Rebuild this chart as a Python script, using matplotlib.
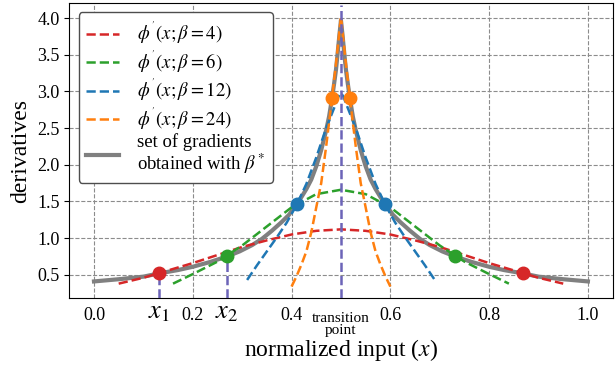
import matplotlib
matplotlib.use("Agg")
import matplotlib.pyplot as plt

plt.rcParams['font.family'] = ['serif']
plt.rcParams['font.serif'] = ['Liberation Serif']
plt.rcParams['mathtext.fontset'] = 'stix'

# ---- data ----
x_red = [0.05, 0.10, 0.15, 0.20, 0.25, 0.30, 0.35, 0.40, 0.45, 0.50,
         0.55, 0.60, 0.65, 0.70, 0.75, 0.80, 0.85, 0.90, 0.95]
y_red = [0.38, 0.46, 0.56, 0.66, 0.77, 0.88, 0.97, 1.05, 1.10, 1.12,
         1.10, 1.05, 0.97, 0.88, 0.77, 0.66, 0.56, 0.46, 0.38]

x_green = [0.16, 0.20, 0.25, 0.30, 0.35, 0.40, 0.45, 0.50,
           0.55, 0.60, 0.65, 0.70, 0.75, 0.80, 0.84]
y_green = [0.38, 0.51, 0.68, 0.90, 1.16, 1.42, 1.60, 1.66,
           1.60, 1.42, 1.16, 0.90, 0.68, 0.51, 0.38]

x_blue = [0.31, 0.33, 0.35, 0.37, 0.39, 0.41, 0.43, 0.45, 0.47, 0.49, 0.495, 0.50,
          0.505, 0.51, 0.53, 0.55, 0.57, 0.59, 0.61, 0.63, 0.65, 0.67, 0.69]
y_blue = [0.43, 0.63, 0.82, 1.01, 1.21, 1.45, 1.74, 2.10, 2.50, 2.84, 2.93, 2.98,
          2.93, 2.84, 2.50, 2.10, 1.74, 1.45, 1.21, 1.01, 0.82, 0.63, 0.43]

x_orange = [0.40, 0.41, 0.42, 0.43, 0.44, 0.45, 0.46, 0.47, 0.48, 0.49, 0.50,
            0.51, 0.52, 0.53, 0.54, 0.55, 0.56, 0.57, 0.58, 0.59, 0.60]
y_orange = [0.34, 0.48, 0.64, 0.82, 1.08, 1.42, 1.75, 2.25, 2.80, 3.38, 4.02,
            3.38, 2.80, 2.25, 1.75, 1.42, 1.08, 0.82, 0.64, 0.48, 0.34]

x_gray = [0.0, 0.05, 0.10, 0.132, 0.17, 0.20, 0.235, 0.269, 0.295, 0.32, 0.34,
          0.36, 0.38, 0.395, 0.41, 0.42, 0.43, 0.44, 0.45, 0.46, 0.47, 0.476,
          0.482, 0.486, 0.49, 0.493, 0.497, 0.50,
          0.503, 0.507, 0.51, 0.514, 0.518, 0.524, 0.53, 0.54, 0.55, 0.56, 0.57,
          0.58, 0.59, 0.605, 0.62, 0.64, 0.66, 0.68, 0.705, 0.731, 0.765, 0.80,
          0.83, 0.868, 0.90, 0.95, 1.0]
y_gray = [0.41, 0.44, 0.475, 0.52, 0.565, 0.61, 0.675, 0.75, 0.82, 0.905, 0.99,
          1.10, 1.22, 1.32, 1.46, 1.56, 1.67, 1.80, 1.98, 2.20, 2.47, 2.66,
          2.91, 3.10, 3.30, 3.50, 3.78, 3.97,
          3.78, 3.50, 3.30, 3.10, 2.91, 2.66, 2.47, 2.20, 1.98, 1.80, 1.67,
          1.56, 1.46, 1.32, 1.22, 1.10, 0.99, 0.905, 0.82, 0.75, 0.675, 0.61,
          0.565, 0.52, 0.475, 0.44, 0.41]

pts_red = ([0.132, 0.868], [0.52, 0.52])
pts_green = ([0.269, 0.731], [0.75, 0.75])
pts_blue = ([0.41, 0.59], [1.46, 1.46])
pts_orange = ([0.482, 0.518], [2.91, 2.91])

x1, x2, x_tr = 0.132, 0.269, 0.5
major_ticks = [0.0, 0.2, 0.4, 0.6, 0.8, 1.0]
y_ticks = [0.5, 1.0, 1.5, 2.0, 2.5, 3.0, 3.5, 4.0]

labels = [r"$\phi^{'}(x;\beta=4)$", r"$\phi^{'}(x;\beta=6)$",
          r"$\phi^{'}(x;\beta=12)$", r"$\phi^{'}(x;\beta=24)$",
          "set of gradients\nobtained with $\\beta^*$"]

# ---- plotting ----
fig = plt.figure(figsize=(6.16, 3.69), dpi=100)
ax = fig.add_axes([0.1125, 0.1916, 0.882, 0.801])
ymin, ymax = 0.18, 4.21
vcol = '#6c64b8'

ax.plot(x_gray, y_gray, color='gray', lw=3, zorder=2, label=labels[4])
ax.plot(x_red, y_red, '--', color='tab:red', lw=1.8, zorder=3, label=labels[0])
ax.plot(x_green, y_green, '--', color='tab:green', lw=1.8, zorder=3, label=labels[1])
ax.plot(x_blue, y_blue, '--', color='tab:blue', lw=1.8, zorder=3, label=labels[2])
ax.plot(x_orange, y_orange, '--', color='tab:orange', lw=1.8, zorder=3, label=labels[3])

ax.vlines([x1], ymin, pts_red[1][0], colors=vcol, linestyles='--', lw=1.8, zorder=4)
ax.vlines([x2], ymin, pts_green[1][0], colors=vcol, linestyles='--', lw=1.8, zorder=4)
ax.vlines([x_tr], ymin, 4.18, colors=vcol, linestyles='--', lw=1.8, zorder=4)

for (px, py), c in zip([pts_red, pts_green, pts_blue, pts_orange],
                       ['tab:red', 'tab:green', 'tab:blue', 'tab:orange']):
    ax.plot(px, py, 'o', color=c, ms=9, zorder=5)

ax.set_xlim(-0.05, 1.05)
ax.set_ylim(ymin, ymax)
ax.set_xticks(major_ticks)
ax.set_xticklabels([f"{t:.1f}" for t in major_ticks])
ax.set_yticks(y_ticks)
ax.set_yticklabels([f"{t:.1f}" for t in y_ticks])
ax.set_xticks([x1, x2], minor=True)
ax.set_xticklabels(['$x_1$', '$x_2$'], minor=True)
ax.tick_params(axis='x', which='both', length=0, pad=6, labelsize=13)
ax.tick_params(axis='x', which='minor', pad=3, labelsize=19)
ax.tick_params(axis='y', labelsize=13, length=3.5)
ax.text(x_tr, -0.045, 'transition\npoint', transform=ax.get_xaxis_transform(),
        ha='center', va='top', fontsize=11, linespacing=0.95)

ax.grid(True, which='major', linestyle='--', color='0.55', lw=0.8)
ax.set_axisbelow(True)

ax.set_xlabel("normalized input ($x$)", fontsize=17, labelpad=9)
ax.set_ylabel("derivatives", fontsize=17)

h, l = ax.get_legend_handles_labels()
order = [1, 2, 3, 4, 0]
leg = ax.legend([h[i] for i in order], [l[i] for i in order], loc='upper left',
                fontsize=13.5, handletextpad=0.95, handlelength=1.75,
                labelspacing=0.1, framealpha=1.0, borderaxespad=0.5)
leg.get_frame().set_edgecolor('0.3')
for t in leg.get_texts():
    t.set_linespacing(1.0)

fig.savefig('out.png', dpi=100)
